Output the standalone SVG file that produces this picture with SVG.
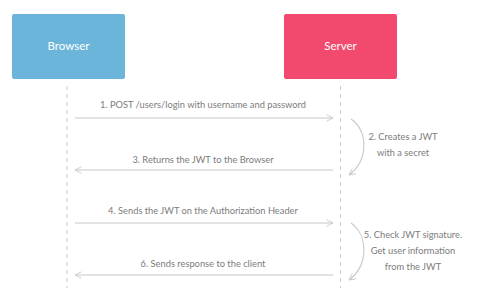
<svg xmlns="http://www.w3.org/2000/svg" width="483" height="292" viewBox="0 0 483 292">
<style>
.lbl{font-family:Lato,"Liberation Sans",sans-serif;font-size:9.3px;fill:#7c7c7c;text-anchor:middle}
.hd{font-family:Lato,"Liberation Sans",sans-serif;font-size:11.5px;fill:#fff;text-anchor:middle}
.life{stroke:#cccccc;stroke-width:1;stroke-dasharray:4,4;fill:none}
.msg{stroke:#c8c8c8;stroke-width:1.1;fill:none}
</style>
<defs>
<marker id="ah" viewBox="0 0 10 10" refX="9" refY="5" markerWidth="8" markerHeight="8" orient="auto-start-reverse" markerUnits="userSpaceOnUse">
<path d="M1,1 L9,5 L1,9" fill="none" stroke="#c8c8c8" stroke-width="1.1"/>
</marker>
</defs>
<rect width="483" height="292" fill="#fff"/>
<g id="browser">
<rect x="12" y="14" width="113" height="65" rx="2" fill="#6cb5da"/>
<text class="hd" x="68.5" y="50">Browser</text>
</g>
<g id="server">
<rect x="284" y="14" width="113" height="65" rx="2" fill="#f24a6e"/>
<text class="hd" x="340.5" y="50">Server</text>
</g>
<g id="connectors">
<line class="life" x1="67" y1="86" x2="67" y2="288"/>
<line class="life" x1="340.5" y1="86" x2="340.5" y2="288"/>
<line class="msg" x1="75" y1="118" x2="333" y2="118" marker-end="url(#ah)"/>
<line class="msg" x1="333" y1="170" x2="75" y2="170" marker-end="url(#ah)"/>
<line class="msg" x1="75" y1="223" x2="333" y2="223" marker-end="url(#ah)"/>
<line class="msg" x1="333" y1="275" x2="75" y2="275" marker-end="url(#ah)"/>
<path class="msg" d="M351,119 C368,130 369,160 349,175" marker-end="url(#ah)"/>
<path class="msg" d="M351,223 C368,235 369,265 349,280" marker-end="url(#ah)"/>
</g>
<g id="labels">
<text class="lbl" x="203" y="108">1. POST /users/login with username and password</text>
<text class="lbl" x="203" y="163">3. Returns the JWT to the Browser</text>
<text class="lbl" x="203" y="214">4. Sends the JWT on the Authorization Header</text>
<text class="lbl" x="203" y="267">6. Sends response to the client</text>
<text class="lbl" x="403" y="140">2. Creates a JWT</text>
<text class="lbl" x="403" y="156">with a secret</text>
<text class="lbl" x="413" y="238">5. Check JWT signature.</text>
<text class="lbl" x="413" y="254">Get user information</text>
<text class="lbl" x="413" y="270">from the JWT</text>
</g>
</svg>
